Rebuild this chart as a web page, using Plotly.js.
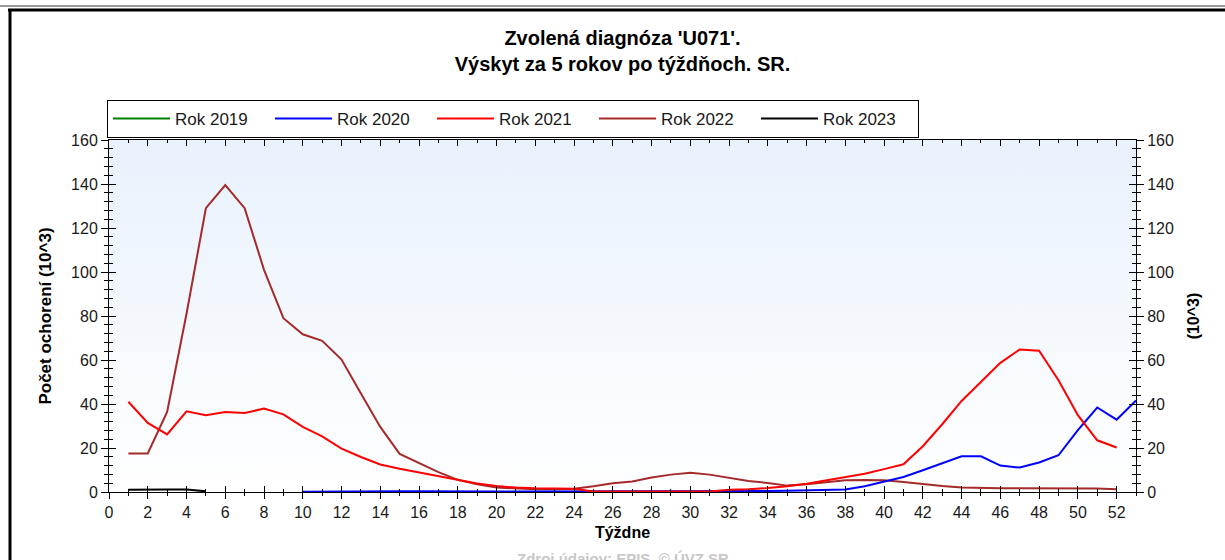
<!DOCTYPE html>
<html>
<head>
<meta charset="utf-8">
<script src="https://cdn.plot.ly/plotly-3.0.1.min.js"></script>
<style>html,body{margin:0;padding:0;background:#fff;}#chart{width:1225px;height:560px;}</style>
</head>
<body>
<div id="chart"></div>
<script>
// ---- data (values in thousands) ----
const seriesNames = ['Rok 2019', 'Rok 2020', 'Rok 2021', 'Rok 2022', 'Rok 2023'];
const seriesColors = ['#008000', '#0000FF', '#FF0000', '#A52A2A', '#000000'];

// 2019: no data shown in the chart
const weeks2019 = [1];
const values2019 = [null];

const weeks2020 = [10,11,12,13,14,15,16,17,18,19,20,21,22,23,24,25,26,27,28,29,30,31,32,33,34,35,36,37,38,39,40,41,42,43,44,45,46,47,48,49,50,51,52,53];
const values2020 = [0.1,0.2,0.3,0.4,0.4,0.3,0.3,0.2,0.2,0.2,0.2,0.2,0.2,0.2,0.2,0.2,0.2,0.2,0.3,0.3,0.3,0.3,0.4,0.4,0.5,0.6,0.7,0.8,1.1,2.6,4.6,6.8,9.9,13.2,16.2,16.2,12.0,11.1,13.4,16.7,28.1,38.4,32.9,41.6];

const weeks2021 = [1,2,3,4,5,6,7,8,9,10,11,12,13,14,15,16,17,18,19,20,21,22,23,24,25,26,27,28,29,30,31,32,33,34,35,36,37,38,39,40,41,42,43,44,45,46,47,48,49,50,51,52];
const values2021 = [41.0,31.4,26.2,36.7,34.9,36.4,35.9,37.9,35.3,29.6,25.3,19.7,15.9,12.5,10.6,8.9,7.2,5.4,3.9,2.7,2.0,1.7,1.5,1.5,0.2,0.2,0.2,0.2,0.2,0.2,0.2,1.0,1.2,1.8,2.6,3.8,5.2,6.7,8.3,10.4,12.6,20.8,30.8,41.4,50.0,58.7,64.8,64.2,50.8,34.9,23.5,20.2];

const weeks2022 = [1,2,3,4,5,6,7,8,9,10,11,12,13,14,15,16,17,18,19,20,21,22,23,24,25,26,27,28,29,30,31,32,33,34,35,36,37,38,39,40,41,42,43,44,45,46,47,48,49,50,51,52];
const values2022 = [17.5,17.5,36.4,81.0,129.0,139.5,129.0,101.0,79.0,71.7,68.7,60.2,44.8,29.6,17.3,13.0,9.0,5.5,3.5,2.0,1.5,1.3,1.3,1.5,2.6,4.0,4.8,6.6,7.9,8.8,7.9,6.5,5.0,4.1,2.9,3.5,4.5,5.3,5.5,5.3,4.5,3.5,2.7,2.0,1.7,1.7,1.7,1.7,1.6,1.6,1.6,1.2];

const weeks2023 = [1,2,3,4,5];
const values2023 = [1.0,1.2,1.1,1.1,0.3];

const yTickVals = [0,20,40,60,80,100,120,140,160];
const xTickVals = [0,2,4,6,8,10,12,14,16,18,20,22,24,26,28,30,32,34,36,38,40,42,44,46,48,50,52];

const titleText = "Zvolená diagnóza 'U071'.<br>Výskyt za 5 rokov po týždňoch. SR.";
const xTitle = 'Týždne';
const yTitle = 'Počet ochorení (10^3)';
const y2Title = '(10^3)';
const sourceText = 'Zdroj údajov: EPIS, © ÚVZ SR';

// ---- traces ----
// each series is placed on one of the overlaid (identical-range) axis pairs so every axis is drawn
const allWeeks = [weeks2019, weeks2020, weeks2021, weeks2022, weeks2023];
const allValues = [values2019, values2020, values2021, values2022, values2023];
const axisPairs = [['x','y'], ['x','y3'], ['x2','y'], ['x','y2'], ['x','y']];
const drawOrder = [0, 4, 2, 3, 1];
const traces = drawOrder.map(i => ({
  type: 'scatter', mode: 'lines',
  x: allWeeks[i], y: allValues[i],
  name: seriesNames[i],
  legendrank: i + 1,
  line: {color: seriesColors[i], width: 2},
  xaxis: axisPairs[i][0], yaxis: axisPairs[i][1],
  hoverinfo: 'skip'
}));

// ---- layout ----
const FONT = 'Liberation Sans, Arial, sans-serif';
const ML = 109, MR = 89, MT = 140, MB = 68, W = 1225, H = 560;
const PW = W - ML - MR, PH = H - MT - MB;
const px2x = px => (px - ML) / PW;
const py2y = py => (H - MB - py) / PH;

const gradSvg = "<svg xmlns='http://www.w3.org/2000/svg' width='100' height='100' preserveAspectRatio='none'>" +
  "<defs><linearGradient id='g' x1='0' y1='0' x2='0' y2='1'>" +
  "<stop offset='0' stop-color='#e8f1fc'/><stop offset='1' stop-color='#ffffff'/>" +
  "</linearGradient></defs><rect width='100' height='100' fill='url(#g)'/></svg>";

const tickCommon = {
  showgrid: false, zeroline: false, showline: true, linecolor: '#000', linewidth: 1,
  tickcolor: '#000', tickwidth: 1, fixedrange: true
};
const tickFont = {family: FONT, size: 16, color: '#1a1a1a'};

const layout = {
  width: W, height: H,
  margin: {l: ML, r: MR, t: MT, b: MB, pad: 0},
  paper_bgcolor: '#ffffff',
  plot_bgcolor: 'rgba(0,0,0,0)',
  font: {family: FONT, color: '#1a1a1a', size: 15},
  showlegend: true,
  title: {
    text: '<b>' + titleText + '</b>',
    font: {family: FONT, size: 20, color: '#000'},
    x: 0.5, xref: 'paper', xanchor: 'center',
    y: 1 - 45 / H, yref: 'container', yanchor: 'top'
  },
  legend: {
    orientation: 'h',
    x: px2x(107), xanchor: 'left',
    y: py2y(100), yanchor: 'top',
    bordercolor: '#000', borderwidth: 1, bgcolor: '#fff',
    font: {family: FONT, size: 17, color: '#1a1a1a'},
    itemwidth: 57,
    entrywidth: 90,
    traceorder: 'normal'
  },
  xaxis: Object.assign({}, tickCommon, {
    range: [0, 53], tickvals: xTickVals,
    ticks: 'outside', ticklen: 6,
    minor: {dtick: 1, tick0: 0, ticks: 'outside', ticklen: 3, tickcolor: '#000', showgrid: false},
    tickfont: tickFont,
    title: {text: '<b>' + xTitle + '</b>', font: {family: FONT, size: 16, color: '#000'}, standoff: 6}
  }),
  xaxis2: Object.assign({}, tickCommon, {
    overlaying: 'x', anchor: 'y', side: 'bottom',
    range: [0, 53], tickvals: xTickVals,
    ticks: 'inside', ticklen: 6, mirror: 'ticks',
    minor: {dtick: 1, tick0: 0, ticks: 'inside', ticklen: 3, tickcolor: '#000', showgrid: false},
    showticklabels: false
  }),
  yaxis: Object.assign({}, tickCommon, {
    range: [0, 160], tickvals: yTickVals,
    ticks: 'outside', ticklen: 7,
    minor: {dtick: 4, tick0: 0, ticks: 'outside', ticklen: 4, tickcolor: '#000', showgrid: false},
    tickfont: tickFont,
    title: {text: '<b>' + yTitle + '</b>', font: {family: FONT, size: 17, color: '#000'}, standoff: 15}
  }),
  yaxis2: Object.assign({}, tickCommon, {
    overlaying: 'y', anchor: 'x', side: 'right',
    range: [0, 160], tickvals: yTickVals,
    ticks: 'outside', ticklen: 7,
    minor: {dtick: 4, tick0: 0, ticks: 'outside', ticklen: 4, tickcolor: '#000', showgrid: false},
    tickfont: tickFont,
    title: {text: '<b>' + y2Title + '</b>', font: {family: FONT, size: 16, color: '#000'}, standoff: 14}
  }),
  yaxis3: Object.assign({}, tickCommon, {
    overlaying: 'y', anchor: 'x', side: 'left',
    range: [0, 160], tickvals: yTickVals,
    ticks: 'inside', ticklen: 7, mirror: 'ticks',
    minor: {dtick: 4, tick0: 0, ticks: 'inside', ticklen: 4, tickcolor: '#000', showgrid: false},
    showticklabels: false
  }),
  images: [{
    source: 'data:image/svg+xml;charset=utf-8,' + encodeURIComponent(gradSvg),
    xref: 'paper', yref: 'paper', x: 0, y: 1, sizex: 1, sizey: 1,
    xanchor: 'left', yanchor: 'top', sizing: 'stretch', layer: 'below'
  }],
  annotations: [{
    text: '<b>' + sourceText + '</b>',
    xref: 'paper', yref: 'paper', x: 0.5, y: py2y(548), xanchor: 'center', yanchor: 'top',
    showarrow: false, font: {family: FONT, size: 15, color: '#c8c8c8'}
  }],
  shapes: [
    {type: 'line', xref: 'paper', yref: 'paper', x0: px2x(0), x1: px2x(1225), y0: py2y(6), y1: py2y(6), line: {color: '#9a9a9a', width: 2}},
    {type: 'line', xref: 'paper', yref: 'paper', x0: px2x(8), x1: px2x(1225), y0: py2y(10), y1: py2y(10), line: {color: '#000', width: 3}},
    {type: 'line', xref: 'paper', yref: 'paper', x0: px2x(10), x1: px2x(10), y0: py2y(9), y1: py2y(562), line: {color: '#000', width: 3}}
  ]
};

Plotly.newPlot('chart', traces, layout, {displayModeBar: false, staticPlot: true});
</script>
</body>
</html>
